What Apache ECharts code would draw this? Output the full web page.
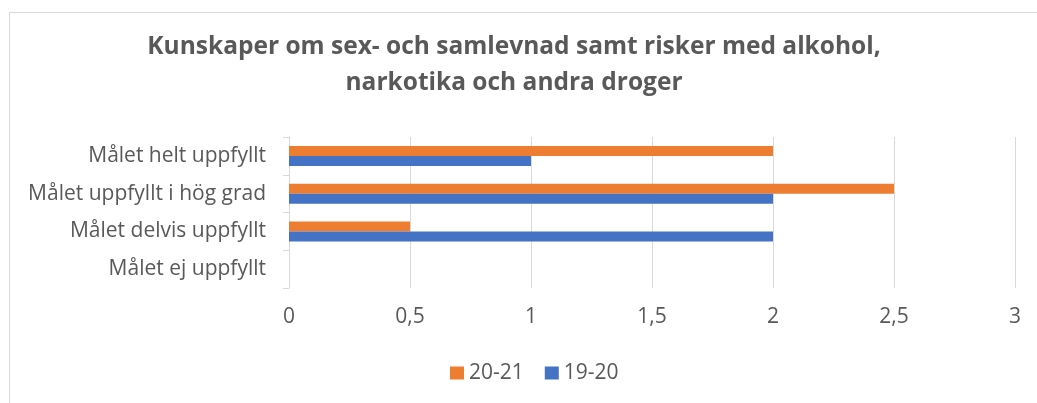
<!DOCTYPE html>
<html>
<head>
<meta charset="utf-8">
<script src="https://cdn.jsdelivr.net/npm/echarts@6/dist/echarts.min.js"></script>
<style>
  html, body { margin: 0; padding: 0; background: #fff; }
  #chart { width: 1037px; height: 403px; }
</style>
</head>
<body>
<div id="chart"></div>
<script>
// Goal-attainment categories (bottom to top)
const categories = [
  'Målet ej uppfyllt',
  'Målet delvis uppfyllt',
  'Målet uppfyllt i hög grad',
  'Målet helt uppfyllt'
];
const seriesNames = ['20-21', '19-20'];
const values2021 = [0, 0.5, 2.5, 2];
const values1920 = [0, 2, 2, 1];
const xTicks = { min: 0, max: 3, interval: 0.5 };

const textColor = '#595959';
const lineColor = '#D9D9D9';
const fontFamily = '"Open Sans", "Noto Sans", sans-serif';

const chart = echarts.init(document.getElementById('chart'), null, { renderer: 'canvas' });

chart.setOption({
  animation: false,
  backgroundColor: '#ffffff',
  textStyle: { fontFamily: fontFamily, color: textColor },
  graphic: [{
    type: 'rect',
    shape: { x: 9.5, y: 12.5, width: 1200, height: 600 },
    style: { fill: 'none', stroke: lineColor, lineWidth: 1 },
    silent: true
  }],
  title: {
    text: 'Kunskaper om sex- och samlevnad samt risker med alkohol,\nnarkotika och andra droger',
    left: 509,
    top: 24,
    textAlign: 'center',
    textStyle: {
      fontFamily: fontFamily,
      fontSize: 24.5,
      fontWeight: 'bold',
      color: textColor,
      lineHeight: 36
    }
  },
  legend: {
    data: ['20-21', '19-20'],
    left: 450,
    top: 361,
    padding: 0,
    itemWidth: 14,
    itemHeight: 13,
    itemGap: 21,
    icon: 'rect',
    textStyle: { fontFamily: fontFamily, fontSize: 21, color: textColor, lineHeight: 24 }
  },
  grid: { left: 289, right: 22, top: 137, bottom: 115, containLabel: false },
  xAxis: {
    type: 'value',
    min: xTicks.min,
    max: xTicks.max,
    interval: xTicks.interval,
    axisLine: { show: false },
    axisTick: { show: false },
    splitLine: { show: true, lineStyle: { color: lineColor, width: 1 } },
    axisLabel: {
      fontFamily: fontFamily,
      fontSize: 21,
      color: textColor,
      margin: 19,
      formatter: v => String(v).replace('.', ',')
    }
  },
  yAxis: {
    type: 'category',
    data: categories,
    boundaryGap: true,
    axisLine: { show: true, lineStyle: { color: lineColor, width: 1 } },
    axisTick: { show: true, length: 6, lineStyle: { color: lineColor } },
    splitLine: { show: false },
    axisLabel: {
      fontFamily: fontFamily,
      fontSize: 21,
      color: textColor,
      margin: 23
    }
  },
  series: [
    {
      name: seriesNames[0],
      type: 'bar',
      data: values2021,
      barWidth: 10,
      barGap: '0%',
      itemStyle: { color: '#ED7D31' }
    },
    {
      name: seriesNames[1],
      type: 'bar',
      data: values1920,
      barWidth: 10,
      barGap: '0%',
      itemStyle: { color: '#4472C4' }
    }
  ]
});
</script>
</body>
</html>
